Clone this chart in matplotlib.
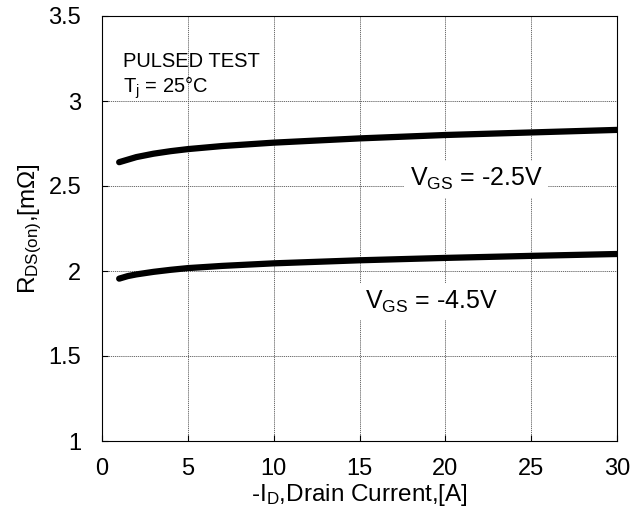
import matplotlib.pyplot as plt

plt.rcParams['font.family'] = ['Liberation Sans', 'DejaVu Sans']
plt.rcParams['mathtext.fontset'] = 'custom'
plt.rcParams['mathtext.rm'] = 'Liberation Sans'
plt.rcParams['mathtext.it'] = 'Liberation Sans'

# Datos
id_a = [1, 1.5, 2, 3, 4, 5, 7, 10, 15, 20, 25, 30]
rds_25 = [2.64, 2.655, 2.67, 2.69, 2.705, 2.717, 2.735, 2.755, 2.78, 2.80, 2.815, 2.83]
rds_45 = [1.955, 1.97, 1.98, 1.995, 2.007, 2.017, 2.03, 2.045, 2.063, 2.077, 2.089, 2.10]

xticks = [0, 5, 10, 15, 20, 25, 30]
yticks = [1, 1.5, 2, 2.5, 3, 3.5]
yticklabels = ['1', '1.5', '2', '2.5', '3', '3.5']

fig = plt.figure(figsize=(6.35, 5.19), dpi=100)
ax = fig.add_axes([102 / 635, 1 - 441 / 519, 515 / 635, 425 / 519])

ax.plot(id_a, rds_25, color='black', lw=4.5, solid_capstyle='round')
ax.plot(id_a, rds_45, color='black', lw=4.5, solid_capstyle='round')

ax.set_xlim(0, 30)
ax.set_ylim(1, 3.5)
ax.set_xticks(xticks)
ax.set_yticks(yticks)
ax.set_yticklabels(yticklabels)
ax.tick_params(direction='in', labelsize=17, length=4)
ax.tick_params(axis='x', pad=12)
ax.tick_params(axis='y', pad=15)
ax.grid(True, color='#555555', linestyle=(0, (1.5, 1)), linewidth=0.6)

ax.set_xlabel('-I$_\\mathregular{D}$,Drain Current,[A]', fontsize=17.5, labelpad=2)
ax.set_ylabel('R$_\\mathregular{DS(on)}$,[m\u03a9]', fontsize=17.5, labelpad=3)

ax.text(1.2, 3.23, 'PULSED TEST', fontsize=14.5, va='center')
ax.text(1.2, 3.08, 'T$_\\mathregular{j}$ = 25\u00b0C', fontsize=14.5, va='center')
ax.text(21.8, 2.54, 'V$_\\mathregular{GS}$ = -2.5V', fontsize=18, ha='center', va='center',
        bbox=dict(facecolor='white', edgecolor='none', pad=4))
ax.text(19.2, 1.82, 'V$_\\mathregular{GS}$ = -4.5V', fontsize=18, ha='center', va='center',
        bbox=dict(facecolor='white', edgecolor='none', pad=4))

fig.savefig('out.png', dpi=100)
